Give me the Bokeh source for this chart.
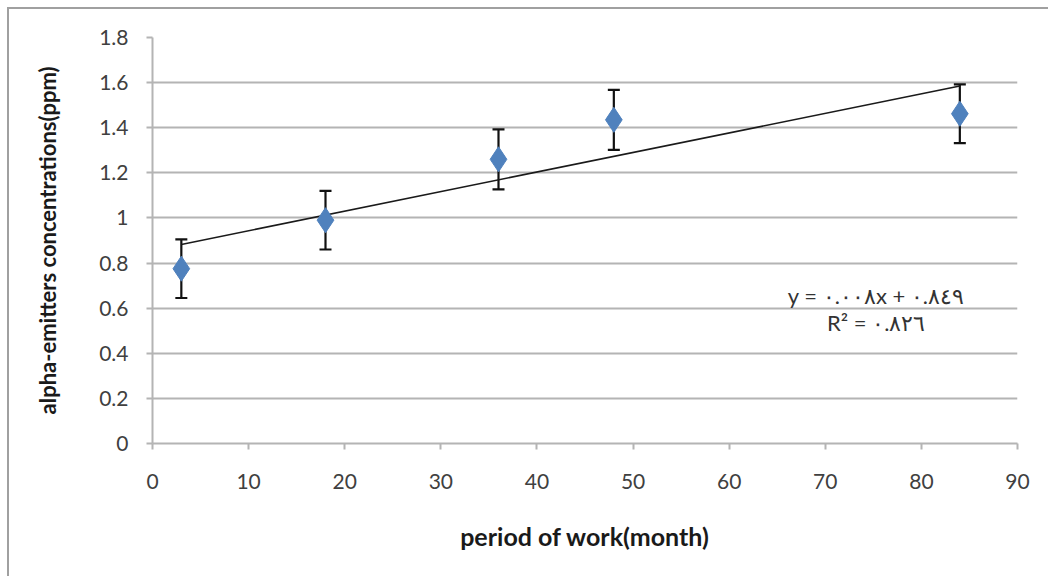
from bokeh.plotting import figure
from bokeh.models import ColumnDataSource, Whisker, TeeHead, Label, FixedTicker, CustomJSTickFormatter
from bokeh.embed import file_html
from bokeh.resources import INLINE
import numpy as np

# period of work (months) and alpha-emitter concentration (ppm)
months = [3, 18, 36, 48, 84]
conc = [0.775, 0.99, 1.26, 1.435, 1.462]
err = [0.13, 0.13, 0.133, 0.133, 0.13]

x_ticks = [0, 10, 20, 30, 40, 50, 60, 70, 80, 90]
y_ticks = [0, 0.2, 0.4, 0.6, 0.8, 1.0, 1.2, 1.4, 1.6, 1.8]

eq_text = "y = ٠.٠٠٨x + ٠.٨٤٩"
r2_text = "R² = ٠.٨٢٦"

FONT = "Lato"
GRID = "#b4b4b4"

src = ColumnDataSource(dict(
    x=months, y=conc,
    upper=[c + e for c, e in zip(conc, err)],
    lower=[c - e for c, e in zip(conc, err)],
))

p = figure(width=1041, height=569, x_range=(0, 90), y_range=(0, 1.8),
           output_backend="svg", toolbar_location=None,
           min_border_left=143, min_border_right=33, min_border_top=28,
           min_border_bottom=135)
p.styles = {"margin-left": "7px", "margin-top": "7px",
            "border-left": "2px solid #a0a0a0", "border-top": "2px solid #a0a0a0",
            "border-right": "none", "border-bottom": "none"}

p.outline_line_color = None
p.background_fill_color = "white"
p.border_fill_color = "white"

# linear trend line fitted to the measurements
slope, intercept = np.polyfit(months, conc, 1)
tx = [min(months), max(months)]
p.line(tx, [slope * v + intercept for v in tx], line_color="#1a1a1a", line_width=1.6)

# error bars
wh = Whisker(source=src, base="x", upper="upper", lower="lower",
             line_color="#111111", line_width=2.2,
             upper_head=TeeHead(size=12, line_color="#111111", line_width=2.2),
             lower_head=TeeHead(size=12, line_color="#111111", line_width=2.2))
p.add_layout(wh)

p.scatter("x", "y", source=src, marker="diamond", size=25,
          fill_color="#4f81bd", line_color="#4f81bd")

# axes
p.xaxis.ticker = FixedTicker(ticks=x_ticks)
p.yaxis.ticker = FixedTicker(ticks=y_ticks)
p.yaxis.formatter = CustomJSTickFormatter(code="return tick.toFixed(1).replace(/\\.0$/, '')")

for ax in (p.xaxis[0], p.yaxis[0]):
    ax.axis_line_color = GRID
    ax.axis_line_width = 2
    ax.major_tick_line_color = GRID
    ax.major_tick_line_width = 2
    ax.major_tick_in = 0
    ax.major_tick_out = 6
    ax.minor_tick_line_color = None
    ax.major_label_text_font = FONT
    ax.major_label_text_font_size = "21px"
    ax.major_label_text_color = "#404040"
    ax.axis_label_text_font = FONT
    ax.axis_label_text_font_style = "bold"
    ax.axis_label_text_color = "#1a1a1a"

p.xaxis.axis_label = "period of work(month)"
p.yaxis.axis_label = "alpha-emitters concentrations(ppm)"
p.xaxis.axis_label_text_font_size = "25px"
p.yaxis.axis_label_text_font_size = "22px"
p.xaxis.major_label_standoff = 24
p.yaxis.major_label_standoff = 18
p.xaxis.axis_label_standoff = 29
p.yaxis.axis_label_standoff = 35

p.xgrid.grid_line_color = None
p.ygrid.grid_line_color = GRID
p.ygrid.grid_line_width = 2

# trend equation
p.add_layout(Label(x=75.3, y=0.655, text=eq_text, text_align="center",
                   text_baseline="middle", text_font=FONT,
                   text_font_size="22px", text_color="#333333"))
p.add_layout(Label(x=75.3, y=0.535, text=r2_text, text_align="center",
                   text_baseline="middle", text_font=FONT,
                   text_font_size="22px", text_color="#333333"))

open("out.html", "w").write(file_html(p, INLINE))
